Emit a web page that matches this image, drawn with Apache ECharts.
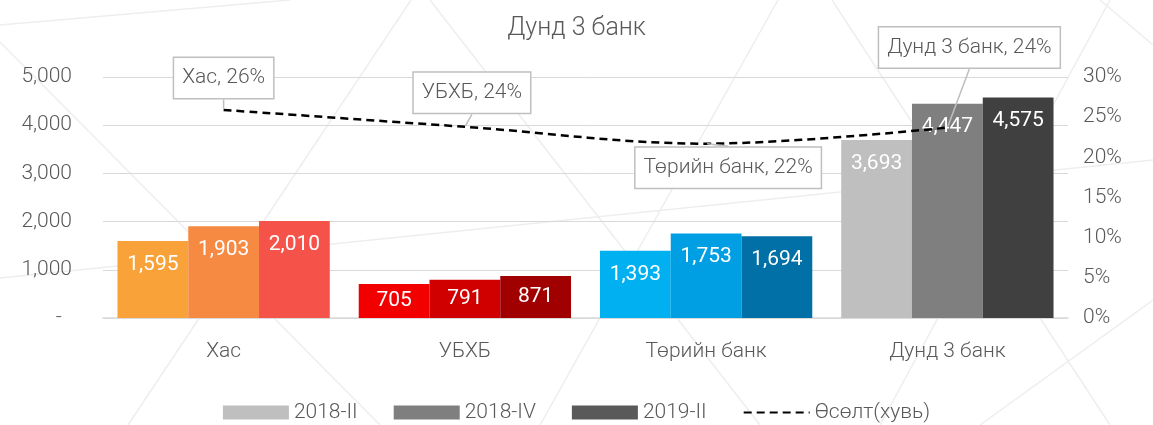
<!DOCTYPE html>
<html>
<head>
    <meta charset="utf-8">
    <title>Дунд 3 банк</title>
    <script src="https://cdn.jsdelivr.net/npm/echarts@6/dist/echarts.min.js"></script>
    <style>
        html, body { margin: 0; padding: 0; background: #fff; }
    </style>
</head>
<body>
<div id="main" style="width: 1153px;height:425px;"></div>

<script type="text/javascript">
    // өгөгдөл
    var categories = ['Хас', 'УБХБ', 'Төрийн банк', 'Дунд 3 банк'];
    var periods = ['2018-II', '2018-IV', '2019-II'];
    var v2018II = [1595, 705, 1393, 3693];
    var v2018IV = [1903, 791, 1753, 4447];
    var v2019II = [2010, 871, 1694, 4575];
    var growth = [25.9, 23.8, 21.7, 23.7];      // Өсөлт(хувь), %
    var growthName = 'Өсөлт(хувь)';

    // банк бүрийн өнгө
    var barColors = [
        ['#F9A23A', '#F78A42', '#F5524A'],
        ['#F20000', '#D00000', '#A00000'],
        ['#00B0F0', '#009FE3', '#0070A6'],
        ['#BFBFBF', '#7F7F7F', '#404040']
    ];
    var legendColors = ['#BFBFBF', '#7F7F7F', '#595959'];

    var FONT = "Roboto, sans-serif";
    var GRAY = '#595959';

    function fmt(n) {
        return String(n).replace(/\B(?=(\d{3})+(?!\d))/g, ',');
    }

    function barSeries(idx, values) {
        return {
            name: periods[idx],
            type: 'bar',
            barGap: 0,
            barCategoryGap: '12%',
            itemStyle: { color: legendColors[idx] },
            data: values.map(function (v, i) {
                return {
                    value: v,
                    itemStyle: { color: barColors[i][idx] },
                    label: { position: v < 1000 ? 'inside' : 'insideTop' }
                };
            }),
            label: {
                show: true,
                distance: 13,
                color: '#fff',
                fontFamily: FONT,
                fontWeight: 400,
                fontSize: 21,
                formatter: function (p) { return fmt(p.value); }
            }
        };
    }

    // тайлбарын байрлал (callout)
    var calloutPos = ['top', 'top', 'bottom', 'top'];
    var calloutShift = [[0, -6], [7, -8], [22, -2], [22, -54]];

    // арын бүдэг шугамууд
    var bgLines = [
        [0, 25, 290, 0],
        [0, 42, 380, 425],
        [411, 0, 128, 425],
        [430, 0, 760, 425],
        [778, 0, 540, 425],
        [832, 0, 1110, 425],
        [0, 278, 1153, 160],
        [1110, 0, 880, 425],
        [1100, 0, 1153, 45],
        [1153, 300, 980, 425]
    ];

    var myChart = echarts.init(document.getElementById('main'));

    var option = {
        backgroundColor: '#fff',
        animation: false,
        textStyle: { fontFamily: FONT, fontWeight: 300 },
        graphic: bgLines.map(function (l) {
            return {
                type: 'line',
                silent: true,
                z: -10,
                shape: { x1: l[0], y1: l[1], x2: l[2], y2: l[3] },
                style: { stroke: '#EEEEEE', lineWidth: 1.5 }
            };
        }),
        title: {
            text: 'Дунд 3 банк',
            left: 'center',
            top: 11,
            textStyle: { fontFamily: FONT, fontSize: 25, fontWeight: 300, color: GRAY }
        },
        legend: {
            left: 'center',
            top: 397,
            itemWidth: 66,
            itemHeight: 14,
            itemGap: 36,
            textStyle: { fontFamily: FONT, fontSize: 21, fontWeight: 300, color: GRAY },
            data: [
                { name: periods[0], icon: 'rect' },
                { name: periods[1], icon: 'rect' },
                { name: periods[2], icon: 'rect' },
                { name: growthName, itemStyle: { opacity: 0 } }
            ]
        },
        grid: { left: 103, right: 85, top: 77, bottom: 107 },
        xAxis: {
            type: 'category',
            data: categories,
            axisTick: { show: false },
            axisLine: { lineStyle: { color: '#D9D9D9', width: 1.5 } },
            axisLabel: { color: GRAY, fontFamily: FONT, fontWeight: 300, fontSize: 21, margin: 23 }
        },
        yAxis: [{
            type: 'value',
            min: 0,
            max: 5000,
            interval: 1000,
            axisLabel: {
                color: GRAY, fontFamily: FONT, fontWeight: 300, fontSize: 21, margin: 31,
                formatter: function (v) { return v === 0 ? '-  ' : fmt(v); }
            },
            splitLine: { lineStyle: { color: '#D9D9D9' } }
        }, {
            type: 'value',
            min: 0,
            max: 30,
            interval: 5,
            axisLabel: {
                color: GRAY, fontFamily: FONT, fontWeight: 300, fontSize: 21, margin: 15,
                formatter: '{value}%'
            },
            splitLine: { show: false }
        }],
        series: [
            barSeries(0, v2018II),
            barSeries(1, v2018IV),
            barSeries(2, v2019II),
            {
                name: growthName,
                type: 'line',
                yAxisIndex: 1,
                smooth: 0.35,
                symbol: 'circle',
                symbolSize: 2,
                showSymbol: true,
                z: 5,
                lineStyle: { color: '#000', width: 2.5, type: [8, 5] },
                itemStyle: { color: 'rgba(0,0,0,0)' },
                data: growth.map(function (v, i) {
                    return { value: v, label: { position: calloutPos[i] } };
                }),
                label: {
                    show: true,
                    opacity: 1,
                    fontFamily: FONT,
                    fontWeight: 300,
                    fontSize: 21,
                    lineHeight: 26,
                    color: GRAY,
                    backgroundColor: '#fff',
                    borderColor: '#BFBFBF',
                    borderWidth: 1.5,
                    padding: [7, 8],
                    formatter: function (p) {
                        return p.name + ', ' + Math.round(p.value) + '%';
                    }
                },
                labelLine: {
                    show: true,
                    lineStyle: { color: '#BFBFBF', width: 1.5 }
                },
                labelLayout: function (p) {
                    var s = calloutShift[p.dataIndex];
                    return { dx: s[0], dy: s[1] };
                }
            }
        ]
    };

    myChart.setOption(option);
</script>
</body>
</html>
